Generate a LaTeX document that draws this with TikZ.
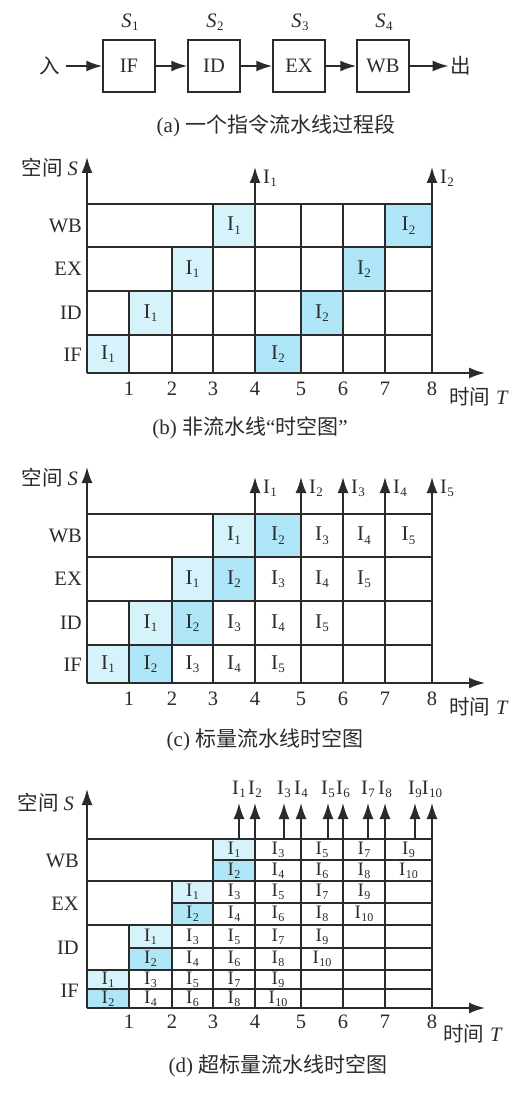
\documentclass[tikz,border=0pt]{standalone}
\usepackage{fontspec}
\setmainfont{Liberation Serif}
\newfontfamily\cjk{Noto Sans CJK SC}
\usetikzlibrary{arrows.meta}
\definecolor{lightc}{HTML}{D6F2FB}
\definecolor{darkc}{HTML}{AEE6F7}
\definecolor{ink}{HTML}{2B2B2B}
\newcommand\Ii[1]{I\kern0.3pt\raisebox{-0.35ex}{\fontsize{13}{13}\selectfont#1}}
\newcommand\Is[1]{I\kern0.3pt\raisebox{-0.35ex}{\fontsize{12}{12}\selectfont#1}}
\newcommand\Sub[1]{\textit{S}\kern0.5pt\raisebox{-0.35ex}{\fontsize{13}{13}\selectfont#1}}
\pgfmathdeclarefunction{cx}{1}{\pgfmathparse{{87,129,172,213,255,301,343,385,432}[int(#1)]}}
% #1 name, #2 col, #3 ytop, #4 ybot, #5 label, #6 fill, #7 style
\newcommand\cellbox[7]{%
  \fill[#6] ({cx(#2)},#3) rectangle ({cx(#2+1)},#4);
  \node[#7] (#1) at ({(cx(#2)+cx(#2+1))/2},{(#3+#4)/2}) {#5};}
% common frame for (b) and (c): #1 prefix
\newcommand\stframe[1]{%
  \foreach \yy in {204,247,291,335,373} \draw[gridline] ({cx(0)},\yy) -- ({cx(8)},\yy);
  \draw[gridline] ({cx(1)},291) -- ({cx(1)},373);
  \draw[gridline] ({cx(2)},247) -- ({cx(2)},373);
  \foreach \k in {3,...,7} \draw[gridline] ({cx(\k)},204) -- ({cx(\k)},373);
  \draw[gridline] ({cx(8)},204) -- ({cx(8)},373);
  \coordinate (#1-o) at ({cx(0)},373);
  \coordinate (#1-ytip) at ({cx(0)},157);
  \coordinate (#1-xtip) at (485,373);
  \draw[axis] (#1-o) -- (#1-ytip);
  \draw[axis] (#1-o) -- (#1-xtip);
  \node[lab,anchor=east] (#1-sl) at (78,168) {{\cjk 空间}\hspace{5pt}\textit{S}};
  \node[lab] (#1-tl) at (479,397) {{\cjk 时间}\hspace{6pt}\textit{T}};
  \node[lab,anchor=east] (#1-wb) at (82,226) {WB};
  \node[lab,anchor=east] (#1-ex) at (82,269) {EX};
  \node[lab,anchor=east] (#1-id) at (82,313) {ID};
  \node[lab,anchor=east] (#1-if) at (82,355) {IF};
  \foreach \k in {1,...,8} \node[lab] (#1-t\k) at ({cx(\k)},389) {\k};
}
\begin{document}
\begin{tikzpicture}[x=1pt,y=-1pt,
  every node/.style={text=ink, inner sep=0pt},
  lab/.style={font=\fontsize{20.5}{22}\selectfont},
  celltext/.style={font=\fontsize{21}{22}\selectfont},
  smallcell/.style={font=\fontsize{19}{20}\selectfont},
  captext/.style={font=\fontsize{21}{24}\selectfont},
  gridline/.style={draw=ink, line width=1.5pt},
  axis/.style={draw=ink, line width=1.8pt, -{Latex[length=16pt,width=11pt]}},
  stage/.style={draw=ink, line width=1.5pt, minimum width=52pt, minimum height=52pt, font=\fontsize{20.5}{22}\selectfont}]
\useasboundingbox (0,0) rectangle (524,1094);
\fill[white] (0,0) rectangle (524,1094);

% ---------- (a) ----------
\node[lab] (in) at (50,66) {\cjk 入};
\node[stage] (IF) at (129,66) {IF};
\node[stage] (ID) at (214,66) {ID};
\node[stage] (EX) at (299,66) {EX};
\node[stage] (WB) at (383,66) {WB};
\node[lab] (out) at (461,66) {\cjk 出};
\node[lab] (s1) at (130,22) {\Sub1};
\node[lab] (s2) at (215,22) {\Sub2};
\node[lab] (s3) at (300,22) {\Sub3};
\node[lab] (s4) at (384,22) {\Sub4};
\draw[axis, shorten <=6pt] (in) -- (IF);
\draw[axis] (IF) -- (ID);
\draw[axis] (ID) -- (EX);
\draw[axis] (EX) -- (WB);
\draw[axis, shorten >=2pt] (WB) -- (out);
\node[captext] (capa) at (276,126) {(a) {\cjk 一个指令流水线过程段}};

% ---------- (b) ----------
\cellbox{b-c1}{0}{335}{373}{\Ii1}{lightc}{celltext}
\cellbox{b-c2}{1}{291}{335}{\Ii1}{lightc}{celltext}
\cellbox{b-c3}{2}{247}{291}{\Ii1}{lightc}{celltext}
\cellbox{b-c4}{3}{204}{247}{\Ii1}{lightc}{celltext}
\cellbox{b-c5}{4}{335}{373}{\Ii2}{darkc}{celltext}
\cellbox{b-c6}{5}{291}{335}{\Ii2}{darkc}{celltext}
\cellbox{b-c7}{6}{247}{291}{\Ii2}{darkc}{celltext}
\cellbox{b-c8}{7}{204}{247}{\Ii2}{darkc}{celltext}
\stframe{b}
\coordinate (b-a1s) at ({cx(4)},204);
\coordinate (b-a1e) at ({cx(4)},167);
\coordinate (b-a2s) at ({cx(8)},204);
\coordinate (b-a2e) at ({cx(8)},167);
\draw[axis] (b-a1s) -- (b-a1e);
\draw[axis] (b-a2s) -- (b-a2e);
\node[lab,anchor=west] (b-l1) at ({cx(4)+8},178) {\Ii1};
\node[lab,anchor=west] (b-l2) at ({cx(8)+8},178) {\Ii2};
\node[captext] (capb) at (250,428) {(b) {\cjk 非流水线}“{\cjk 时空图}”};

% ---------- (c) ----------
\begin{scope}[shift={(0,310)}]
\cellbox{c-w3}{3}{204}{247}{\Ii1}{lightc}{celltext}
\cellbox{c-w4}{4}{204}{247}{\Ii2}{darkc}{celltext}
\cellbox{c-w5}{5}{204}{247}{\Ii3}{white}{celltext}
\cellbox{c-w6}{6}{204}{247}{\Ii4}{white}{celltext}
\cellbox{c-w7}{7}{204}{247}{\Ii5}{white}{celltext}
\cellbox{c-e2}{2}{247}{291}{\Ii1}{lightc}{celltext}
\cellbox{c-e3}{3}{247}{291}{\Ii2}{darkc}{celltext}
\cellbox{c-e4}{4}{247}{291}{\Ii3}{white}{celltext}
\cellbox{c-e5}{5}{247}{291}{\Ii4}{white}{celltext}
\cellbox{c-e6}{6}{247}{291}{\Ii5}{white}{celltext}
\cellbox{c-d1}{1}{291}{335}{\Ii1}{lightc}{celltext}
\cellbox{c-d2}{2}{291}{335}{\Ii2}{darkc}{celltext}
\cellbox{c-d3}{3}{291}{335}{\Ii3}{white}{celltext}
\cellbox{c-d4}{4}{291}{335}{\Ii4}{white}{celltext}
\cellbox{c-d5}{5}{291}{335}{\Ii5}{white}{celltext}
\cellbox{c-f0}{0}{335}{373}{\Ii1}{lightc}{celltext}
\cellbox{c-f1}{1}{335}{373}{\Ii2}{darkc}{celltext}
\cellbox{c-f2}{2}{335}{373}{\Ii3}{white}{celltext}
\cellbox{c-f3}{3}{335}{373}{\Ii4}{white}{celltext}
\cellbox{c-f4}{4}{335}{373}{\Ii5}{white}{celltext}
\stframe{c}
\foreach \k/\n in {4/1,5/2,6/3,7/4,8/5}{
  \coordinate (c-a\n s) at ({cx(\k)},204);
  \coordinate (c-a\n e) at ({cx(\k)},167);
  \draw[axis] (c-a\n s) -- (c-a\n e);
  \node[lab,anchor=west] (c-l\n) at ({cx(\k)+8},178) {\Ii\n};
}
\node[captext] (capc) at (265,430) {(c) {\cjk 标量流水线时空图}};
\end{scope}

% ---------- (d) ----------
\cellbox{d-wu0}{3}{839}{860}{\Is1}{lightc}{smallcell}
\cellbox{d-wl0}{3}{860}{881}{\Is2}{darkc}{smallcell}
\cellbox{d-eu0}{2}{881}{903}{\Is1}{lightc}{smallcell}
\cellbox{d-el0}{2}{903}{925}{\Is2}{darkc}{smallcell}
\cellbox{d-du0}{1}{925}{948}{\Is1}{lightc}{smallcell}
\cellbox{d-dl0}{1}{948}{970}{\Is2}{darkc}{smallcell}
\cellbox{d-fu0}{0}{970}{989}{\Is1}{lightc}{smallcell}
\cellbox{d-fl0}{0}{989}{1008}{\Is2}{darkc}{smallcell}
\foreach \j [evaluate=\j as \a using int(2*\j+1), evaluate=\j as \b using int(2*\j+2)] in {1,...,4}{
  \cellbox{d-wu\j}{\j+3}{839}{860}{\Is\a}{white}{smallcell}
  \cellbox{d-wl\j}{\j+3}{860}{881}{\Is\b}{white}{smallcell}
  \cellbox{d-eu\j}{\j+2}{881}{903}{\Is\a}{white}{smallcell}
  \cellbox{d-el\j}{\j+2}{903}{925}{\Is\b}{white}{smallcell}
  \cellbox{d-du\j}{\j+1}{925}{948}{\Is\a}{white}{smallcell}
  \cellbox{d-dl\j}{\j+1}{948}{970}{\Is\b}{white}{smallcell}
  \cellbox{d-fu\j}{\j}{970}{989}{\Is\a}{white}{smallcell}
  \cellbox{d-fl\j}{\j}{989}{1008}{\Is\b}{white}{smallcell}
}
\foreach \yy in {839,881,925,970,1008} \draw[gridline] ({cx(0)},\yy) -- ({cx(8)},\yy);
\draw[gridline] ({cx(3)},860) -- ({cx(8)},860);
\draw[gridline] ({cx(2)},903) -- ({cx(8)},903);
\draw[gridline] ({cx(1)},948) -- ({cx(8)},948);
\draw[gridline] ({cx(0)},989) -- ({cx(8)},989);
\draw[gridline] ({cx(1)},925) -- ({cx(1)},1008);
\draw[gridline] ({cx(2)},881) -- ({cx(2)},1008);
\foreach \k in {3,...,8} \draw[gridline] ({cx(\k)},839) -- ({cx(\k)},1008);
\coordinate (d-o) at ({cx(0)},1008);
\coordinate (d-ytip) at ({cx(0)},789);
\coordinate (d-xtip) at (485,1008);
\draw[axis] (d-o) -- (d-ytip);
\draw[axis] (d-o) -- (d-xtip);
\node[lab,anchor=east] (d-sl) at (74,803) {{\cjk 空间}\hspace{5pt}\textit{S}};
\node[lab] (d-tl) at (473,1034) {{\cjk 时间}\hspace{6pt}\textit{T}};
\node[lab,anchor=east] (d-wb) at (79,861) {WB};
\node[lab,anchor=east] (d-ex) at (79,904) {EX};
\node[lab,anchor=east] (d-id) at (79,948) {ID};
\node[lab,anchor=east] (d-if) at (79,991) {IF};
\foreach \k in {1,...,8} \node[lab] (d-t\k) at ({cx(\k)},1022) {\k};
\foreach \xx/\n in {239/1,255/2,284/3,301/4,328/5,343/6,368/7,385/8,415/9,432/10}{
  \coordinate (d-a\n s) at (\xx,839);
  \coordinate (d-a\n e) at (\xx,803);
  \draw[axis] (d-a\n s) -- (d-a\n e);
  \node[lab] (d-l\n) at (\xx,789) {\Ii\n};
}
\node[captext] (capd) at (278,1066) {(d) {\cjk 超标量流水线时空图}};
\end{tikzpicture}
\end{document}
